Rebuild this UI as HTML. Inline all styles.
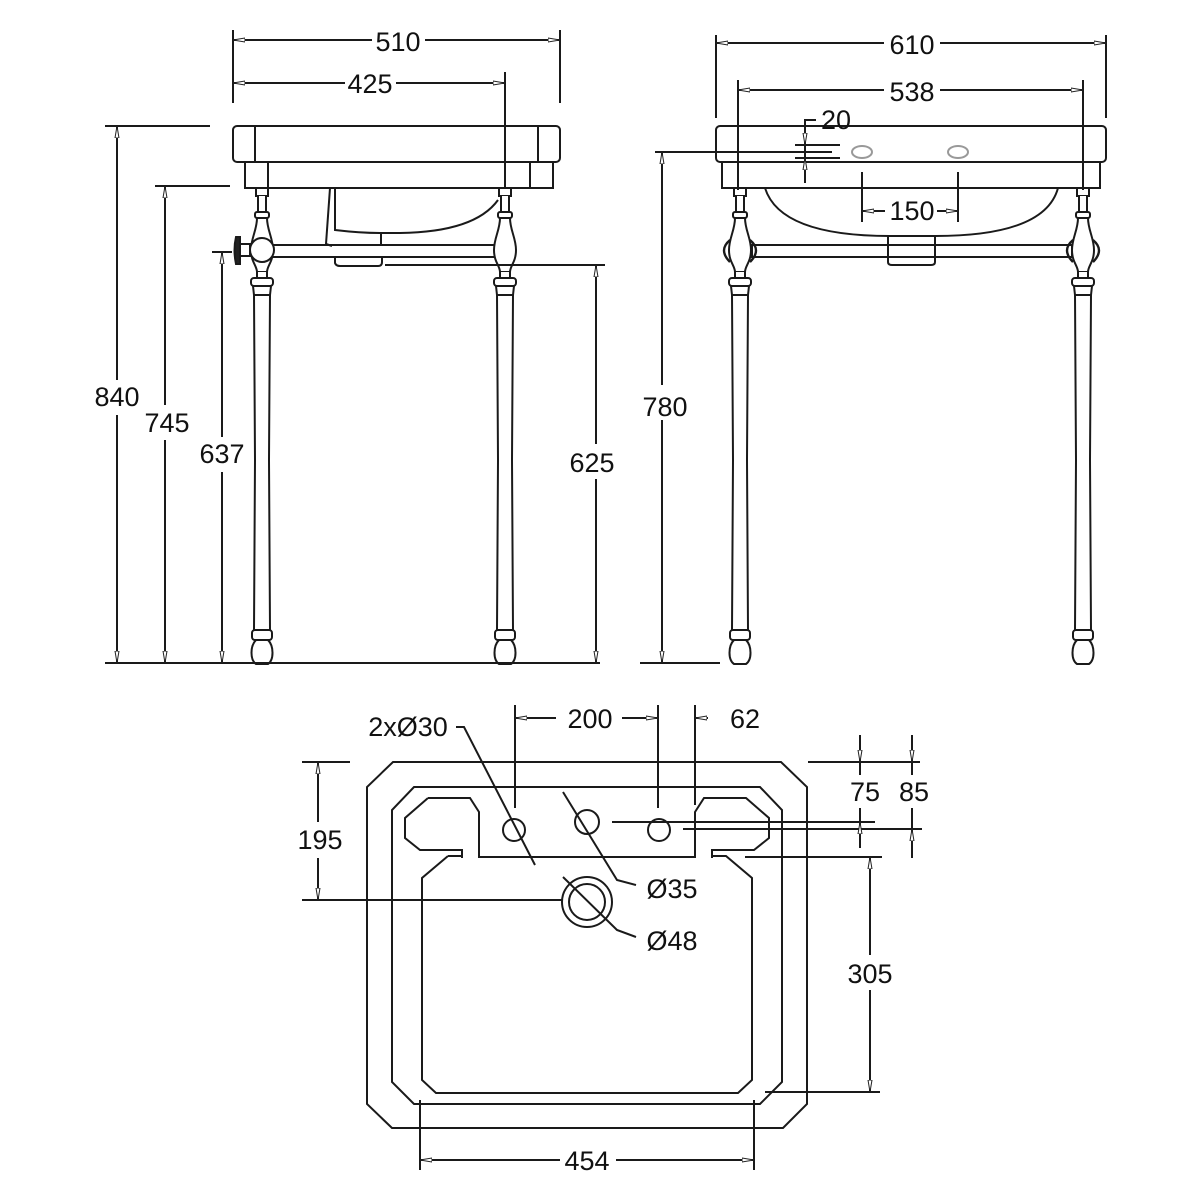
<!DOCTYPE html>
<html><head><meta charset="utf-8"><style>
html,body{margin:0;padding:0;background:#fff}
svg{display:block}
text{font-family:"Liberation Sans",sans-serif;font-size:27px;fill:#111}
</style></head><body>
<svg width="1200" height="1200" viewBox="0 0 1200 1200" xmlns="http://www.w3.org/2000/svg">
<defs>
<marker id="a" viewBox="0 0 12 6" refX="12" refY="3" markerWidth="12" markerHeight="6" markerUnits="userSpaceOnUse" orient="auto-start-reverse"><path d="M0,1 L12,3 L0,5 z" fill="#fff" stroke="#222" stroke-width="1"/></marker>
<g id="leg" fill="#fff" stroke="#1a1a1a" stroke-width="2">
<rect x="-6" y="188" width="12" height="8"/>
<path d="M-4,196 L-4,212 L4,212 L4,196"/>
<rect x="-7" y="212" width="14" height="6" rx="2"/>
<path d="M-5,218 C-5,230 -11,238 -11,250 C-11,262 -5,266 -5,272 L5,272 C5,266 11,262 11,250 C11,238 5,230 5,218 Z"/>
<path d="M-5,272 L-5,278 L5,278 L5,272"/>
<rect x="-11" y="278" width="22" height="8" rx="3"/>
<path d="M-9,286 L-8,295 L-7,460 L-8,630 L8,630 L7,460 L8,295 L9,286 Z"/>
<line x1="-8" y1="295" x2="8" y2="295"/>
<rect x="-10" y="630" width="20" height="10" rx="3"/>
<path d="M-6,640 C-12,646 -12,660 -6,664 L6,664 C12,660 12,646 6,640 Z"/>
</g>
</defs>
<g fill="none" stroke="#1a1a1a" stroke-width="2">
<!-- FRONT VIEW -->
<rect x="233" y="126" width="327" height="36" rx="4"/>
<line x1="255" y1="126" x2="255" y2="162"/><line x1="538" y1="126" x2="538" y2="162"/>
<rect x="245" y="162" width="308" height="26"/>
<line x1="268" y1="162" x2="268" y2="188"/><line x1="530" y1="162" x2="530" y2="188"/>
<path d="M330,188 L326,244 L332,246"/>
<path d="M335,188 L335,230 Q360,233 380,233 L400,233 Q475,232 498,200"/>
<line x1="381" y1="233" x2="381" y2="245"/>
<path d="M335,258 L335,263 Q336,266 340,266 L378,266 Q382,266 382,262 L382,258"/>
<rect x="270" y="245" width="226" height="12"/>
<use href="#leg" x="262"/>
<use href="#leg" x="505"/>
<circle cx="262" cy="250" r="12" fill="#fff"/>
<path d="M236,237 Q233,250 236,264 L240,264 L240,237 Z" fill="#222"/>
<rect x="240" y="244" width="10" height="12" fill="#fff"/>
<!-- front dims -->
<line x1="233" y1="30" x2="233" y2="103"/><line x1="560" y1="30" x2="560" y2="103"/>
<line x1="233" y1="40" x2="372" y2="40" marker-start="url(#a)"/><line x1="425" y1="40" x2="560" y2="40" marker-end="url(#a)"/>
<line x1="505" y1="72" x2="505" y2="188"/>
<line x1="233" y1="83" x2="345" y2="83" marker-start="url(#a)"/><line x1="396" y1="83" x2="505" y2="83" marker-end="url(#a)"/>
<line x1="105" y1="126" x2="210" y2="126"/>
<line x1="155" y1="186" x2="230" y2="186"/>
<line x1="212" y1="252" x2="232" y2="252"/>
<line x1="385" y1="265" x2="605" y2="265"/>
<line x1="105" y1="663" x2="600" y2="663"/>
<line x1="117" y1="126" x2="117" y2="380" marker-start="url(#a)"/><line x1="117" y1="415" x2="117" y2="663" marker-end="url(#a)"/>
<line x1="165" y1="186" x2="165" y2="405" marker-start="url(#a)"/><line x1="165" y1="440" x2="165" y2="663" marker-end="url(#a)"/>
<line x1="222" y1="252" x2="222" y2="437" marker-start="url(#a)"/><line x1="222" y1="472" x2="222" y2="663" marker-end="url(#a)"/>
<line x1="596" y1="265" x2="596" y2="444" marker-start="url(#a)"/><line x1="596" y1="479" x2="596" y2="663" marker-end="url(#a)"/>
<!-- SIDE VIEW -->
<rect x="716" y="126" width="390" height="36" rx="4"/>
<rect x="722" y="162" width="378" height="26"/>
<ellipse cx="862" cy="152" rx="10" ry="6" stroke="#999"/>
<ellipse cx="958" cy="152" rx="10" ry="6" stroke="#999"/>
<path d="M765,188 Q780,236 890,236 L935,236 Q1045,236 1058,188"/>
<path d="M888,236 L888,262 Q888,265 892,265 L931,265 Q935,265 935,262 L935,236"/>
<rect x="752" y="245" width="320" height="12"/>
<use href="#leg" x="740"/>
<use href="#leg" x="1083"/>
<path d="M730,240 Q718,250 730,262 M750,240 Q762,250 750,262" stroke-width="2.4"/>
<path d="M1073,240 Q1061,250 1073,262 M1093,240 Q1105,250 1093,262" stroke-width="2.4"/>
<line x1="716" y1="35" x2="716" y2="118"/><line x1="1106" y1="35" x2="1106" y2="118"/>
<line x1="716" y1="43" x2="884" y2="43" marker-start="url(#a)"/><line x1="940" y1="43" x2="1106" y2="43" marker-end="url(#a)"/>
<line x1="738" y1="80" x2="738" y2="190"/><line x1="1083" y1="80" x2="1083" y2="190"/>
<line x1="738" y1="90" x2="884" y2="90" marker-start="url(#a)"/><line x1="940" y1="90" x2="1083" y2="90" marker-end="url(#a)"/>
<line x1="862" y1="172" x2="862" y2="222"/><line x1="958" y1="172" x2="958" y2="222"/>
<line x1="862" y1="211" x2="885" y2="211" marker-start="url(#a)"/><line x1="937" y1="211" x2="958" y2="211" marker-end="url(#a)"/>
<line x1="795" y1="145" x2="840" y2="145"/><line x1="795" y1="158" x2="840" y2="158"/>
<line x1="655" y1="152" x2="832" y2="152"/>
<path d="M805,183 L805,120 L816,120"/>
<line x1="805" y1="130" x2="805" y2="145" marker-end="url(#a)"/>
<line x1="805" y1="173" x2="805" y2="158" marker-end="url(#a)"/>
<line x1="640" y1="663" x2="720" y2="663"/>
<line x1="662" y1="152" x2="662" y2="385" marker-start="url(#a)"/><line x1="662" y1="420" x2="662" y2="663" marker-end="url(#a)"/>
<!-- PLAN VIEW -->
<path d="M393,762 L781,762 L807,787 L807,1104 L783,1128 L392,1128 L367,1104 L367,787 Z"/>
<path d="M414,787 L760,787 L782,810 L782,1082 L760,1104 L414,1104 L392,1082 L392,810 Z"/>
<path d="M428,798 L470,798 L479,812 L479,857 L695,857 L695,812 L704,798 L746,798 L769,818 L769,838 L754,850 L712,850 L712,858"/>
<path d="M462,858 L462,850 L420,850 L405,838 L405,818 L428,798"/>
<path d="M448,856 L462,856 M448,856 L422,878 L422,1080 L436,1093 L738,1093 L752,1080 L752,878 L726,856 L712,856"/>
<circle cx="514" cy="830" r="11"/>
<circle cx="587" cy="822" r="12"/>
<circle cx="659" cy="830" r="11"/>
<circle cx="587" cy="902" r="25"/>
<circle cx="587" cy="902" r="18"/>
<!-- plan dims -->
<line x1="515" y1="705" x2="515" y2="808"/><line x1="658" y1="705" x2="658" y2="808"/><line x1="695" y1="705" x2="695" y2="805"/>
<line x1="515" y1="718" x2="556" y2="718" marker-start="url(#a)"/><line x1="622" y1="718" x2="658" y2="718" marker-end="url(#a)"/>
<line x1="708" y1="718" x2="695" y2="718" marker-end="url(#a)"/>
<path d="M456,727 L464,727 L535,865"/>
<path d="M563,792 L617,880 L636,885"/>
<path d="M563,877 L617,930 L636,937"/>
<line x1="302" y1="762" x2="350" y2="762"/>
<line x1="302" y1="900" x2="562" y2="900"/>
<line x1="318" y1="762" x2="318" y2="822" marker-start="url(#a)"/><line x1="318" y1="858" x2="318" y2="900" marker-end="url(#a)"/>
<line x1="808" y1="762" x2="920" y2="762"/>
<line x1="612" y1="822" x2="875" y2="822"/>
<line x1="683" y1="829" x2="922" y2="829"/>
<line x1="745" y1="857" x2="882" y2="857"/>
<line x1="765" y1="1092" x2="880" y2="1092"/>
<line x1="860" y1="735" x2="860" y2="762" marker-end="url(#a)"/><line x1="860" y1="848" x2="860" y2="822" marker-end="url(#a)"/>
<line x1="860" y1="762" x2="860" y2="775"/><line x1="860" y1="808" x2="860" y2="822"/>
<line x1="912" y1="735" x2="912" y2="762" marker-end="url(#a)"/><line x1="912" y1="858" x2="912" y2="829" marker-end="url(#a)"/>
<line x1="912" y1="762" x2="912" y2="775"/><line x1="912" y1="808" x2="912" y2="829"/>
<line x1="870" y1="857" x2="870" y2="955" marker-start="url(#a)"/><line x1="870" y1="990" x2="870" y2="1092" marker-end="url(#a)"/>
<line x1="420" y1="1100" x2="420" y2="1170"/><line x1="754" y1="1100" x2="754" y2="1170"/>
<line x1="420" y1="1160" x2="560" y2="1160" marker-start="url(#a)"/><line x1="616" y1="1160" x2="754" y2="1160" marker-end="url(#a)"/>
</g>
<g text-anchor="middle">
<text x="398" y="51">510</text>
<text x="370" y="93">425</text>
<text x="117" y="406">840</text>
<text x="167" y="432">745</text>
<text x="222" y="463">637</text>
<text x="592" y="472">625</text>
<text x="912" y="54">610</text>
<text x="912" y="101">538</text>
<text x="836" y="129">20</text>
<text x="912" y="220">150</text>
<text x="665" y="416">780</text>
<text x="590" y="728">200</text>
<text x="745" y="728">62</text>
<text x="408" y="736">2xØ30</text>
<text x="320" y="849">195</text>
<text x="865" y="801">75</text>
<text x="914" y="801">85</text>
<text x="672" y="898">Ø35</text>
<text x="672" y="950">Ø48</text>
<text x="870" y="983">305</text>
<text x="587" y="1170">454</text>
</g>
</svg>
</body></html>
